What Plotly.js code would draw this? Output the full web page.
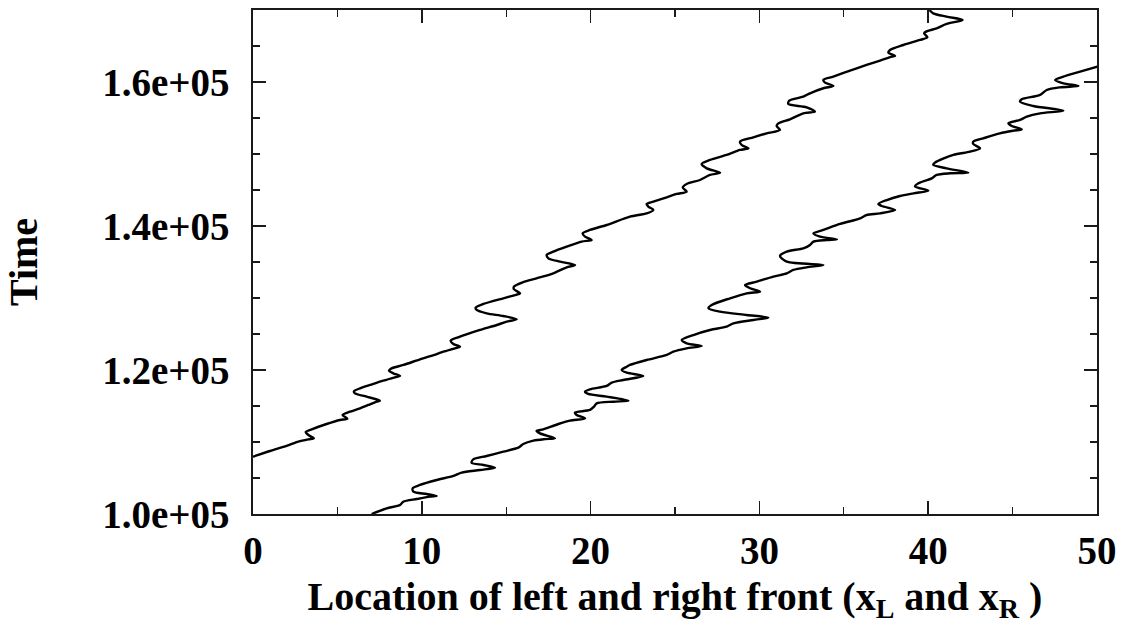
<!DOCTYPE html>
<html>
<head>
<meta charset="utf-8">
<script src="https://cdn.plot.ly/plotly-3.0.1.min.js"></script>
<style>
  html, body { margin: 0; padding: 0; background: #ffffff; }
  #chart { width: 1123px; height: 630px; }
</style>
</head>
<body>
<div id="chart"></div>
<script>
// Left front location x_L and time
const xLeft = [0, 1.01, 1.99, 2.69, 3.28, 3.61, 3.28, 3.12, 3.48, 4.36,
  5.15, 5.59, 5.31, 5.75, 6.34, 6.83, 7.33, 7.52, 6.73, 6.04,
  5.98, 6.34, 6.93, 7.72, 8.41, 8.71, 8.31, 8.06, 8.21, 8.91,
  9.89, 10.88, 11.28, 11.97, 12.26, 11.87, 11.71, 12.26, 13.45, 14.44,
  15.03, 15.62, 14.83, 13.84, 13.25, 13.19, 13.65, 14.83, 15.42, 15.82,
  15.46, 15.46, 16.01, 16.80, 17.79, 18.58, 19.08, 18.19, 17.50, 17.40,
  17.79, 18.58, 19.47, 20.06, 19.67, 19.53, 19.96, 20.95, 22.33, 23.32,
  23.72, 23.42, 23.32, 23.72, 24.51, 25.10, 25.69, 25.46, 25.69, 26.48,
  27.07, 27.67, 26.88, 26.58, 27.07, 28.06, 28.85, 29.35, 28.95, 28.85,
  29.64, 30.43, 31.22, 31.02, 31.12, 31.81, 32.60, 33.29, 32.80, 31.71,
  31.77, 32.60, 33.00, 33.79, 34.38, 33.89, 33.79, 34.38, 35.37, 36.35,
  37.15, 37.84, 38.04, 37.64, 37.74, 38.53, 39.52, 39.95, 39.76, 39.87,
  40.50, 41.09, 42.04, 41.09, 40.30, 40.07];
const tLeft = [107960, 108750, 109450, 110050, 110370, 110510, 110970, 111390, 111760, 112500,
  113060, 113240, 113750, 114210, 114680, 115140, 115600, 115740, 116300, 116760,
  117040, 117460, 117920, 118520, 118980, 119170, 119540, 119910, 120230, 120700,
  121480, 122220, 122550, 123010, 123240, 123610, 124080, 124630, 125560, 126250,
  126720, 127040, 127500, 127870, 128340, 128660, 129170, 129960, 130330, 130650,
  131210, 131580, 132220, 132730, 133430, 134260, 134590, 135050, 135510, 135980,
  136440, 137130, 137830, 138060, 138520, 138980, 139450, 140140, 141300, 141760,
  142230, 142690, 143060, 143380, 143990, 144450, 144770, 145330, 145840, 146390,
  147090, 147410, 148010, 148620, 149170, 149870, 150560, 150790, 151250, 151720,
  152320, 152870, 153340, 153890, 154260, 154820, 155650, 155880, 156490, 156950,
  157410, 157970, 158430, 159130, 159450, 159910, 160280, 160750, 161580, 162370,
  162970, 163520, 163620, 164080, 164450, 165140, 165840, 166210, 166760, 167000,
  167460, 168060, 168620, 169080, 169540, 170000];

// Right front location x_R and time
const xRight = [7.03, 7.92, 8.71, 8.90, 9.70, 10.49, 10.88, 10.29, 9.50, 9.46,
  9.89, 10.88, 11.87, 12.36, 13.45, 14.34, 13.65, 12.95, 13.05, 13.84,
  14.83, 15.72, 16.01, 16.61, 17.30, 17.89, 17.00, 16.80, 17.20, 18.09,
  18.78, 19.67, 19.17, 19.07, 19.96, 20.20, 20.36, 21.35, 22.24, 20.95,
  19.86, 19.67, 19.96, 20.95, 21.25, 21.94, 23.12, 22.14, 21.84, 22.14,
  22.33, 23.32, 24.51, 24.90, 25.69, 26.58, 25.69, 25.40, 26.09, 27.07,
  28.06, 28.46, 29.64, 30.53, 29.25, 27.67, 26.98, 27.17, 28.26, 29.25,
  30.04, 29.45, 29.15, 29.84, 30.83, 31.62, 32.01, 32.80, 33.79, 31.62,
  31.22, 31.62, 32.60, 33.00, 33.20, 33.99, 34.59, 33.59, 33.20, 33.79,
  34.78, 35.97, 36.35, 37.15, 38.04, 37.25, 37.05, 37.55, 38.33, 39.13,
  40.01, 39.22, 39.42, 40.21, 40.50, 41.29, 42.38, 41.09, 40.30, 40.40,
  41.49, 42.48, 43.07, 42.67, 42.67, 43.27, 44.25, 45.05, 45.54, 44.95,
  44.75, 45.44, 45.84, 46.63, 48.01, 46.23, 45.44, 45.54, 46.63, 47.02,
  47.81, 48.90, 48.01, 47.52, 48.01, 49.00, 50.02];
const tRight = [100000, 100790, 101250, 101710, 102080, 102410, 102500, 102780, 103100, 103570,
  104030, 104720, 105280, 105740, 106110, 106440, 106810, 107130, 107590, 108060,
  108660, 109210, 109720, 110190, 110400, 110510, 111200, 111530, 111760, 112500,
  112960, 113290, 113750, 114080, 114450, 114910, 115370, 115600, 115740, 116300,
  116670, 116990, 117320, 117780, 118240, 118610, 119170, 119630, 120000, 120460,
  120700, 121390, 122090, 122550, 123010, 123340, 123710, 124170, 124860, 125560,
  126020, 126480, 126950, 127270, 127640, 128100, 128570, 129030, 129960, 130650,
  130880, 131350, 131810, 132270, 132970, 133430, 133890, 134260, 134590, 135050,
  135840, 136440, 136900, 137360, 137830, 138060, 138150, 138520, 138980, 139450,
  140280, 141070, 141530, 141760, 142230, 142780, 143060, 143610, 144170, 144540,
  144910, 145500, 145930, 146620, 147090, 147320, 147410, 148010, 148480, 148800,
  149870, 150330, 150790, 151390, 151720, 152180, 152870, 153240, 153430, 153890,
  154260, 154730, 155190, 155650, 156020, 156670, 157270, 157600, 158200, 158890,
  159260, 159450, 159820, 160280, 160750, 161440, 162130];

const xTickVals = [0, 10, 20, 30, 40, 50];
const xTickText = ['0', '10', '20', '30', '40', '50'];
const yTickVals = [100000, 120000, 140000, 160000];
const yTickText = ['1.0e+05', '1.2e+05', '1.4e+05', '1.6e+05'];

const FONT = 'Liberation Serif, Times New Roman, serif';

const lineStyle = { color: '#000000', width: 2.4, shape: 'spline', smoothing: 0.8 };

const traces = [
  { x: xLeft, y: tLeft, mode: 'lines', line: lineStyle, name: 'x_L', hoverinfo: 'skip' },
  { x: xRight, y: tRight, mode: 'lines', line: lineStyle, name: 'x_R', hoverinfo: 'skip' }
];

const axisCommon = {
  showgrid: false,
  zeroline: false,
  showline: true,
  linecolor: '#1a1a1a',
  linewidth: 1.6,
  mirror: 'allticks',
  ticks: 'inside',
  tickcolor: '#1a1a1a',
  tickwidth: 1.5,
  ticklen: 13,
  tickmode: 'array'
};

const layout = {
  width: 1123,
  height: 630,
  margin: { l: 253, r: 26, t: 10, b: 116 },
  paper_bgcolor: '#ffffff',
  plot_bgcolor: '#ffffff',
  showlegend: false,
  font: { family: FONT, color: '#000000' },
  xaxis: Object.assign({}, axisCommon, {
    range: [0, 50],
    tickvals: xTickVals,
    ticktext: xTickText,
    minor: { tickvals: [5, 15, 25, 35, 45], ticks: 'inside', ticklen: 7, tickwidth: 1.2, tickcolor: '#1a1a1a' },
    tickfont: { family: FONT, size: 39, weight: 'bold', color: '#000000' },
    ticklabelstandoff: 2,
    title: {
      text: 'Location of left and right front (x<sub>L</sub> and x<sub>R</sub> )',
      font: { family: FONT, size: 40, weight: 'bold', color: '#000000' },
      standoff: 10
    }
  }),
  yaxis: Object.assign({}, axisCommon, {
    range: [100000, 170000],
    tickvals: yTickVals,
    ticktext: yTickText,
    minor: { tickvals: [105000, 110000, 115000, 125000, 130000, 135000, 145000, 150000, 155000, 165000], ticks: 'inside', ticklen: 7, tickwidth: 1.2, tickcolor: '#1a1a1a' },
    tickfont: { family: FONT, size: 39, weight: 'bold', color: '#000000' },
    ticklabelstandoff: 14,
    title: {
      text: 'Time',
      font: { family: FONT, size: 40, weight: 'bold', color: '#000000' },
      standoff: 52
    }
  })
};

Plotly.newPlot('chart', traces, layout, { staticPlot: true, displayModeBar: false });
</script>
</body>
</html>
